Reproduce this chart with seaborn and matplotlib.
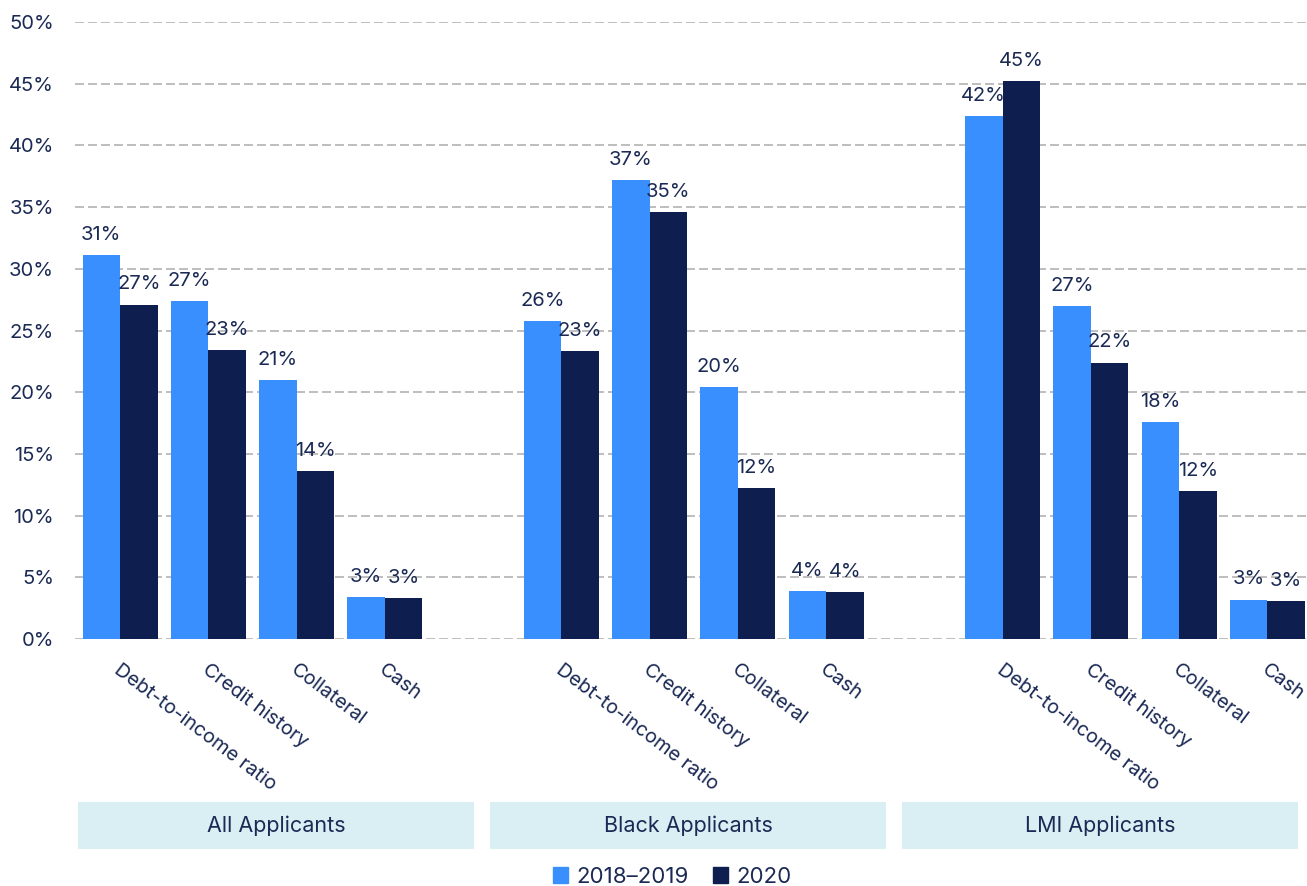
import matplotlib
matplotlib.use("Agg")
import matplotlib.pyplot as plt
import matplotlib.patches as mpatches
import seaborn as sns
import pandas as pd

# ---- data ----
groups = ["All Applicants", "Black Applicants", "LMI Applicants"]
categories = ["Debt-to-income ratio", "Credit history", "Collateral", "Cash"]
periods = ["2018\u20132019", "2020"]
vals_2018_2019 = [31.1, 27.4, 21.0, 3.4,
                  25.8, 37.2, 20.4, 3.9,
                  42.4, 27.0, 17.6, 3.2]
vals_2020 = [27.1, 23.4, 13.6, 3.3,
             23.3, 34.6, 12.2, 3.8,
             45.2, 22.4, 12.0, 3.1]
yticks = [0, 5, 10, 15, 20, 25, 30, 35, 40, 45, 50]

LIGHT = "#3A8FFF"
DARK = "#0E1F4F"
TEXT = "#1B2A55"
BAND = "#D9EFF4"

# slot keys: 4 categories per group + a spacer between groups
slots = []
slot_labels = []
for gi, g in enumerate(groups):
    for c in categories:
        slots.append(f"{g}|{c}")
        slot_labels.append(c)
    if gi < len(groups) - 1:
        slots.append(f"gap{gi}")
        slot_labels.append("")

rows = []
i = 0
for g in groups:
    for c in categories:
        rows.append({"slot": f"{g}|{c}", "period": periods[0], "value": vals_2018_2019[i]})
        rows.append({"slot": f"{g}|{c}", "period": periods[1], "value": vals_2020[i]})
        i += 1
df = pd.DataFrame(rows)

sns.set_theme(style="white")
plt.rcParams["font.family"] = ["Inter", "DejaVu Sans"]

W, H = 1307, 886
fig = plt.figure(figsize=(W / 100, H / 100), dpi=100)
ax = fig.add_axes([75 / W, 1 - 639 / H, (1307 - 75) / W, (639 - 22) / H])

sns.barplot(data=df, x="slot", y="value", hue="period", order=slots,
            hue_order=periods, palette=[LIGHT, DARK], saturation=1,
            width=0.85, ax=ax, legend=False, linewidth=0)

for cont in ax.containers:
    ax.bar_label(cont, fmt=lambda v: f"{v:.0f}%", padding=8,
                 fontsize=14.5, color=TEXT)

ax.set_ylim(0, 50)
ax.set_xlim(-0.51, 13.45)
ax.set_yticks(yticks)
ax.set_yticklabels([f"{t}%" for t in yticks], fontsize=14.5, color=TEXT)
ax.tick_params(axis="y", length=0, pad=15)
ax.set_xticks([])
ax.set_xlabel("")
ax.set_ylabel("")
for s in ax.spines.values():
    s.set_visible(False)
ax.set_axisbelow(True)
ax.grid(axis="y", linestyle=(0, (5.4, 2.4)), linewidth=1.2, color="#B3B3B3")
ax.grid(axis="x", visible=False)

# rotated category labels
trans = matplotlib.transforms.blended_transform_factory(ax.transData, ax.transAxes)
for x, lab in enumerate(slot_labels):
    if lab:
        ax.text(x + 0.02, -0.035, lab, transform=trans, rotation=-37,
                rotation_mode="anchor", ha="left", va="top",
                fontsize=14.3, color=TEXT)

# group bands
band_left = [78, 490, 902]
for g, xl in zip(groups, band_left):
    fig.patches.append(mpatches.Rectangle((xl / W, 1 - 849 / H), 396 / W, 47 / H,
                                          transform=fig.transFigure,
                                          facecolor=BAND, edgecolor="none"))
    fig.text((xl + 198) / W, 1 - 826 / H, g, ha="center", va="center",
             fontsize=15.5, color=TEXT)

handles = [mpatches.Patch(color=LIGHT, label=periods[0]),
           mpatches.Patch(color=DARK, label=periods[1])]
fig.legend(handles=handles, loc="center", bbox_to_anchor=(672 / W, 1 - 877 / H),
           ncol=2, frameon=False, fontsize=16, labelcolor=TEXT,
           handlelength=0.7, handleheight=0.7, handletextpad=0.35,
           columnspacing=1.1)

fig.savefig("out.png", dpi=100, facecolor="white")
